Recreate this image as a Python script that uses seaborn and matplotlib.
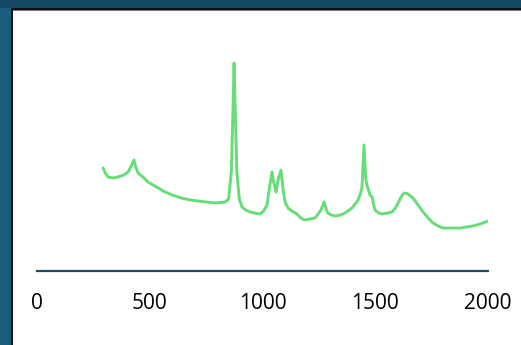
import pandas as pd
import matplotlib.pyplot as plt
import seaborn as sns
from matplotlib.patches import Rectangle

# Raman-like spectrum (wavenumber, intensity in a.u.)
wavenumber = [293, 305, 315, 340, 359, 385, 404, 420, 430, 438, 448, 470,
              492, 530, 568, 600, 639, 680, 714, 750, 789, 834,
              850, 862, 870, 874, 878, 886, 897, 909, 925, 945, 965, 989,
              1005, 1020, 1032, 1042, 1050, 1060, 1070, 1082, 1092, 1100,
              1113, 1130, 1153, 1170, 1188, 1210, 1233, 1250, 1259, 1273,
              1282, 1290, 1305, 1322, 1345, 1366, 1397, 1424, 1435, 1441,
              1450, 1458, 1463, 1477, 1486, 1492, 1499, 1515, 1530, 1555,
              1574, 1590, 1601, 1615, 1623, 1632, 1645, 1667, 1690, 1712,
              1735, 1756, 1780, 1800, 1840, 1876, 1905, 1933, 1965, 2000]
intensity = [103, 97, 94, 93, 94, 96, 99, 106, 111, 104, 98, 94,
             89, 84, 79, 76, 73, 71, 70, 69, 68, 69,
             72, 100, 170, 208, 170, 100, 72, 64, 61, 59, 58, 57,
             60, 66, 85, 99, 88, 79, 92, 101, 80, 69,
             63, 60, 57, 53, 51, 52, 53, 58, 61, 69,
             62, 58, 56, 55, 56, 58, 63, 71, 78, 83,
             126, 92, 86, 76, 74, 67, 61, 58, 57, 58,
             59, 63, 68, 74, 77, 78, 77, 73, 66, 59,
             53, 48, 45, 43, 43, 43, 44, 45, 47, 50]
x_ticks = [0, 500, 1000, 1500, 2000]

df = pd.DataFrame({"wavenumber": wavenumber, "intensity": intensity})

sns.set_style("white")
plt.rcParams["font.family"] = ["Open Sans", "DejaVu Sans"]

W, H = 521, 345
fig = plt.figure(figsize=(W / 100, H / 100), dpi=100, facecolor="#134b66")

def px_rect(x0, y0, x1, y1, color):
    fig.add_artist(Rectangle((x0 / W, 1 - y1 / H), (x1 - x0) / W, (y1 - y0) / H,
                             transform=fig.transFigure, facecolor=color,
                             edgecolor="none", zorder=0))

# outer frame
px_rect(0, 8, 11, H, "#1a5e7e")
px_rect(11, 8, W, H, "#111111")
px_rect(13, 10, W, 11, "#7a7a7a")
px_rect(13, 11, W, H, "white")

ax = fig.add_axes([37 / W, 1 - 271 / H, 451 / W, 260 / H])
ax.set_facecolor("none")

sns.lineplot(data=df, x="wavenumber", y="intensity", ax=ax,
             color="#66dd76", linewidth=2.1)

ax.set_xlim(0, 2000)
ax.set_ylim(0, 260)
ax.set_xticks(x_ticks)
ax.set_xticklabels([str(t) for t in x_ticks])
ax.set_yticks([])
ax.set_xlabel("")
ax.set_ylabel("")
for s in ["top", "right", "left"]:
    ax.spines[s].set_visible(False)
ax.spines["bottom"].set_color("#1f4e5f")
ax.spines["bottom"].set_linewidth(1.6)
ax.tick_params(axis="x", length=0, pad=16, labelsize=15, labelcolor="#000000")

fig.savefig("out.png", dpi=100, facecolor=fig.get_facecolor())
